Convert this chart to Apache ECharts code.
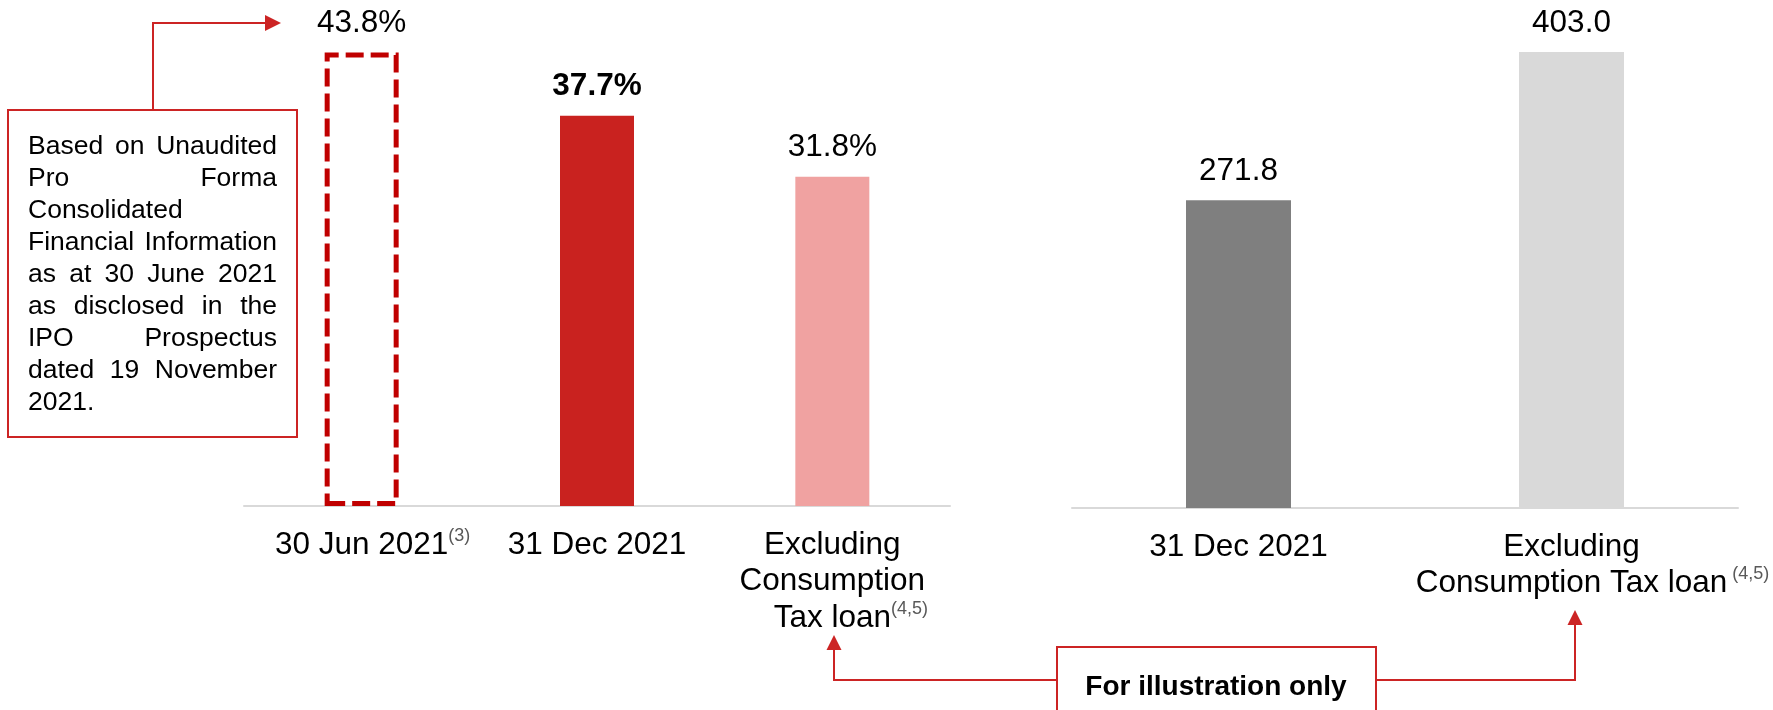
<!DOCTYPE html>
<html>
<head>
<meta charset="utf-8">
<script src="https://cdn.jsdelivr.net/npm/echarts@6/dist/echarts.min.js"></script>
<style>
  html, body { margin: 0; padding: 0; background: #ffffff; }
  #chart { width: 1773px; height: 710px; }
</style>
</head>
<body>
<div id="chart"></div>
<script>
// Gearing ratio (%) – left panel
const ratioCategories = ['30 Jun 2021', '31 Dec 2021', 'Excluding Consumption Tax loan'];
const ratioValues = [43.8, 37.7, 31.8];

// Debt headroom – right panel
const headroomCategories = ['31 Dec 2021', 'Excluding Consumption Tax loan'];
const headroomValues = [271.8, 403.0];

// Footnote markers shown after the category names
const ratioFootnotes = ['(3)', '', '(4,5)'];
const headroomFootnotes = ['', ' (4,5)'];

// Note box text, one entry per printed line (true = justified)
const noteLines = [
  ['Based on Unaudited', true],
  ['Pro Forma', true],
  ['Consolidated', false],
  ['Financial Information', true],
  ['as at 30 June 2021', true],
  ['as disclosed in the', true],
  ['IPO Prospectus', true],
  ['dated 19 November', true],
  ['2021.', false]
];
const illustrationText = 'For illustration only';

const FONT = '"Liberation Sans", Arial, Helvetica, sans-serif';
const RED = '#C9221F';
const LINE_RED = '#CC2424';

const chart = echarts.init(document.getElementById('chart'), null, { renderer: 'canvas' });

// canvas text measuring for the justified note lines
const measureCtx = document.createElement('canvas').getContext('2d');
function textWidth(str, size, weight) {
  measureCtx.font = (weight || 'normal') + ' ' + size + 'px ' + FONT;
  return measureCtx.measureText(str).width;
}

function labelFor(name, note, multiLine) {
  const supW = note ? Math.round(textWidth(note, 18)) : 0;
  let main = name;
  if (multiLine) {
    main = name.replace('Excluding ', 'Excluding\n').replace('Consumption Tax', 'Consumption\nTax');
  }
  if (!note) return main;
  const lines = main.split('\n');
  const last = lines.length - 1;
  lines[last] = '{g' + supW + '| }' + lines[last] + '{sup|' + note + '}';
  return lines.join('\n');
}

function richFor(notes) {
  const rich = {
    sup: { fontSize: 18, fontFamily: FONT, color: '#595959', verticalAlign: 'top', lineHeight: 26 }
  };
  notes.forEach(n => {
    if (!n) return;
    const w = Math.round(textWidth(n, 18));
    rich['g' + w] = { width: w, fontSize: 18, lineHeight: 18 };
  });
  return rich;
}

// Note box graphics
const noteGraphics = [];
const noteSize = 26.5;
const noteLeft = 28, noteRight = 277, firstBaseline = 156, noteStep = 32;
noteLines.forEach((entry, i) => {
  const [line, justify] = entry;
  const y = firstBaseline + i * noteStep - 0.3465 * noteSize;
  const words = line.split(' ');
  if (!justify || words.length < 2) {
    noteGraphics.push({
      type: 'text', x: noteLeft, y: y,
      style: { text: line, fill: '#000', fontSize: noteSize, fontFamily: FONT,
               align: 'left', verticalAlign: 'middle', textAlign: 'left', textVerticalAlign: 'middle' }
    });
    return;
  }
  const widths = words.map(w => textWidth(w, noteSize));
  const total = widths.reduce((a, b) => a + b, 0);
  const gap = (noteRight - noteLeft - total) / (words.length - 1);
  let x = noteLeft;
  words.forEach((w, k) => {
    noteGraphics.push({
      type: 'text', x: x, y: y,
      style: { text: w, fill: '#000', fontSize: noteSize, fontFamily: FONT,
               align: 'left', verticalAlign: 'middle', textAlign: 'left', textVerticalAlign: 'middle' }
    });
    x += widths[k] + gap;
  });
});

const lineStyle = { stroke: LINE_RED, lineWidth: 2, fill: null };

const graphics = [
  // note box with connector to the first bar
  { type: 'rect', shape: { x: 8, y: 110, width: 289, height: 327 },
    style: { fill: '#ffffff', stroke: LINE_RED, lineWidth: 2 }, z: 10 },
  { type: 'polyline', shape: { points: [[153, 110], [153, 23], [266, 23]] }, style: lineStyle, z: 10 },
  { type: 'polygon', shape: { points: [[265, 15], [281, 23], [265, 31]] }, style: { fill: LINE_RED }, z: 10 },
  // illustration call-out at the bottom
  { type: 'polyline', shape: { points: [[1057, 680], [834, 680], [834, 649]] }, style: lineStyle, z: 10 },
  { type: 'polygon', shape: { points: [[826.5, 650], [834, 635], [841.5, 650]] }, style: { fill: LINE_RED }, z: 10 },
  { type: 'polyline', shape: { points: [[1376, 680], [1575, 680], [1575, 624]] }, style: lineStyle, z: 10 },
  { type: 'polygon', shape: { points: [[1567.5, 625], [1575, 610], [1582.5, 625]] }, style: { fill: LINE_RED }, z: 10 },
  { type: 'rect', shape: { x: 1057, y: 647, width: 319, height: 90 },
    style: { fill: '#ffffff', stroke: LINE_RED, lineWidth: 2 }, z: 10 },
  { type: 'text', x: 1216, y: 697 - 0.3465 * 28, z: 11,
    style: { text: illustrationText, fill: '#000', fontSize: 28, fontWeight: 'bold', fontFamily: FONT,
             align: 'center', verticalAlign: 'middle', textAlign: 'center', textVerticalAlign: 'middle' } }
].concat(noteGraphics.map(g => Object.assign(g, { z: 11 })));

const axisLabelBase = {
  interval: 0,
  color: '#000',
  fontSize: 31.5,
  fontFamily: FONT,
  lineHeight: 36.5,
  margin: 21,
  verticalAlign: 'top'
};

const ratioItemStyles = [
  { color: 'rgba(0,0,0,0)', borderColor: '#C00000', borderWidth: 5, borderType: [18, 7] },
  { color: RED },
  { color: '#F0A2A1' }
];
const headroomColors = ['#7F7F7F', '#D9D9D9'];

const option = {
  animation: false,
  backgroundColor: '#ffffff',
  textStyle: { fontFamily: FONT },
  grid: [
    { left: 244, right: 1773 - 950, top: 9, bottom: 710 - 506, containLabel: false },
    { left: 1072, right: 1773 - 1738, top: 10, bottom: 710 - 508, containLabel: false }
  ],
  xAxis: [
    {
      type: 'category', gridIndex: 0, data: ratioCategories,
      axisTick: { show: false },
      axisLine: { lineStyle: { color: '#D9D9D9', width: 2 } },
      axisLabel: Object.assign({}, axisLabelBase, {
        formatter: (v, i) => labelFor(v, ratioFootnotes[i], true),
        rich: richFor(ratioFootnotes)
      })
    },
    {
      type: 'category', gridIndex: 1, data: headroomCategories,
      axisTick: { show: false },
      axisLine: { lineStyle: { color: '#D9D9D9', width: 2 } },
      axisLabel: Object.assign({}, axisLabelBase, {
        formatter: (v, i) => labelFor(v.replace('Excluding ', 'Excluding\n'), headroomFootnotes[i], false),
        rich: richFor(headroomFootnotes)
      })
    }
  ],
  yAxis: [
    { type: 'value', gridIndex: 0, min: 0, max: 48, show: false, splitLine: { show: false } },
    { type: 'value', gridIndex: 1, min: 0, max: 440, show: false, splitLine: { show: false } }
  ],
  series: [
    {
      type: 'bar', xAxisIndex: 0, yAxisIndex: 0, barWidth: 74,
      data: ratioValues.map((v, i) => ({
        value: v,
        itemStyle: ratioItemStyles[i],
        label: i === 1 ? { fontWeight: 'bold' } : {}
      })),
      label: {
        show: true, position: 'top', distance: 13,
        formatter: p => p.value.toFixed(1) + '%',
        color: '#000', fontSize: 31.5, lineHeight: 32, fontFamily: FONT
      }
    },
    {
      type: 'bar', xAxisIndex: 1, yAxisIndex: 1, barWidth: 105,
      data: headroomValues.map((v, i) => ({ value: v, itemStyle: { color: headroomColors[i] } })),
      label: {
        show: true, position: 'top', distance: 13,
        formatter: p => p.value.toFixed(1),
        color: '#000', fontSize: 31.5, lineHeight: 32, fontFamily: FONT
      }
    }
  ],
  graphic: { elements: graphics }
};

chart.setOption(option);
</script>
</body>
</html>
